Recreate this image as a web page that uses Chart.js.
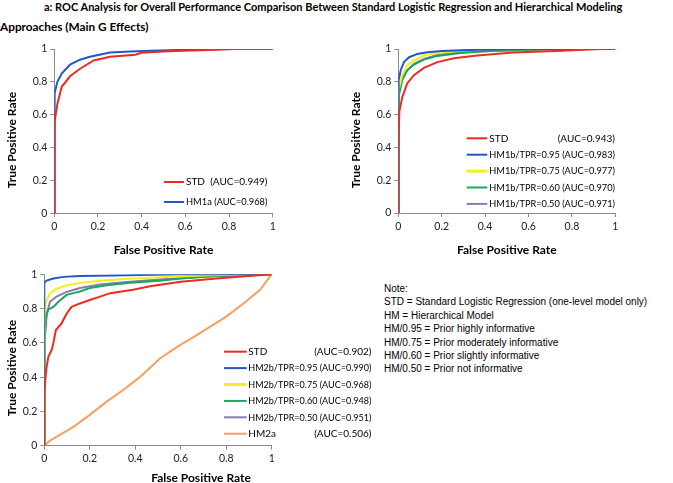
<!DOCTYPE html>
<html>
<head>
<meta charset="utf-8">
<title>ROC Analysis</title>
<script src="https://cdn.jsdelivr.net/npm/chart.js@4.4.1/dist/chart.umd.min.js"></script>
<style>
  body { margin: 0; background: #fff; }
  #page { position: relative; width: 673px; height: 483px; overflow: hidden; font-family: Lato, sans-serif; color: #000; }
  canvas { position: absolute; }
  .txt { position: absolute; white-space: nowrap; }
  #title { left: 44px; top: 0px; font-weight: bold; font-size: 11px; line-height: 14px; }
  #subtitle { left: 0px; top: 20px; font-weight: bold; font-size: 11.8px; line-height: 14px; }
  #note { left: 384px; top: 282px; font-family: "Liberation Sans", Arial, sans-serif; font-size: 10px; line-height: 13.4px; }
</style>
</head>
<body>
<div id="page">
  <div class="txt" id="title">a: ROC Analysis for Overall Performance Comparison Between Standard Logistic Regression and Hierarchical Modeling</div>
  <div class="txt" id="subtitle">Approaches (Main G Effects)</div>
  <canvas id="roc1" width="300" height="230" style="left:0px; top:30px;"></canvas>
  <canvas id="roc2" width="300" height="230" style="left:340px; top:30px;"></canvas>
  <canvas id="roc3" width="380" height="228" style="left:0px; top:255px;"></canvas>
  <div class="txt" id="note"></div>
</div>
<script>
// axis tick labels (same on both axes)
const tickLabels = ['0', '0.2', '0.4', '0.6', '0.8', '1'];

const noteLines = [
  'Note:',
  'STD = Standard Logistic Regression (one-level model only)',
  'HM = Hierarchical Model',
  'HM/0.95 = Prior highly informative',
  'HM/0.75 = Prior moderately informative',
  'HM/0.60 = Prior slightly informative',
  'HM/0.50 = Prior not informative'
];

// ---- chart 1: STD vs HM1a ----
const c1Labels = ['STD', 'HM1a'];
const c1Auc = ['(AUC=0.949)', '(AUC=0.968)'];
const c1StdFpr = [0, 0, 0.003, 0.014, 0.034, 0.072, 0.118, 0.18, 0.255, 0.37, 0.40, 0.52, 0.67, 0.82, 1];
const c1StdTpr = [0, 0.42, 0.56, 0.665, 0.77, 0.834, 0.88, 0.93, 0.953, 0.965, 0.977, 0.987, 0.993, 1, 1];
const c1Hm1aFpr = [0, 0, 0.003, 0.014, 0.034, 0.072, 0.118, 0.163, 0.255, 0.35, 0.44, 0.6, 0.75, 0.84, 1];
const c1Hm1aTpr = [0, 0.6, 0.73, 0.8, 0.85, 0.905, 0.935, 0.953, 0.978, 0.985, 0.99, 0.995, 0.998, 1, 1];

// ---- chart 2: STD vs HM1b priors ----
const c2Labels = ['STD', 'HM1b/TPR=0.95', 'HM1b/TPR=0.75', 'HM1b/TPR=0.60', 'HM1b/TPR=0.50'];
const c2Auc = ['(AUC=0.943)', '(AUC=0.983)', '(AUC=0.977)', '(AUC=0.970)', '(AUC=0.971)'];
const c2StdFpr = [0, 0, 0.005, 0.018, 0.041, 0.072, 0.118, 0.18, 0.256, 0.364, 0.53, 0.757, 0.92, 1];
const c2StdTpr = [0, 0.42, 0.62, 0.705, 0.79, 0.84, 0.885, 0.92, 0.943, 0.96, 0.978, 0.99, 1, 1];
const c2Hm95Fpr = [0, 0, 0.003, 0.011, 0.026, 0.05, 0.088, 0.134, 0.2, 0.364, 0.6, 1];
const c2Hm95Tpr = [0, 0.62, 0.81, 0.87, 0.92, 0.95, 0.97, 0.98, 0.988, 0.996, 1, 1];
const c2Hm75Fpr = [0, 0, 0.003, 0.018, 0.041, 0.072, 0.118, 0.18, 0.287, 0.4, 1];
const c2Hm75Tpr = [0, 0.6, 0.75, 0.84, 0.9, 0.93, 0.96, 0.976, 0.99, 0.998, 1];
const c2Hm60Fpr = [0, 0, 0.003, 0.018, 0.041, 0.072, 0.118, 0.18, 0.287, 0.44, 0.53, 0.7, 1];
const c2Hm60Tpr = [0, 0.6, 0.71, 0.81, 0.87, 0.905, 0.935, 0.958, 0.976, 0.99, 0.993, 0.998, 1];
const c2Hm50Fpr = [0, 0, 0.003, 0.018, 0.041, 0.072, 0.118, 0.18, 0.287, 0.44, 0.7, 1];
const c2Hm50Tpr = [0, 0.55, 0.73, 0.82, 0.87, 0.91, 0.94, 0.963, 0.98, 0.99, 0.998, 1];

// ---- chart 3: STD vs HM2b priors and HM2a ----
const c3Labels = ['STD', 'HM2b/TPR=0.95', 'HM2b/TPR=0.75', 'HM2b/TPR=0.60', 'HM2b/TPR=0.50', 'HM2a'];
const c3Auc = ['(AUC=0.902)', '(AUC=0.990)', '(AUC=0.968)', '(AUC=0.948)', '(AUC=0.951)', '(AUC=0.506)'];
const c3StdFpr = [0, 0, 0.004, 0.01, 0.018, 0.033, 0.04, 0.051, 0.076, 0.098, 0.12, 0.157, 0.2, 0.245, 0.29, 0.39, 0.465, 0.6, 0.757, 0.9, 1];
const c3StdTpr = [0, 0.3, 0.38, 0.46, 0.52, 0.56, 0.6, 0.675, 0.714, 0.77, 0.81, 0.83, 0.85, 0.87, 0.89, 0.91, 0.93, 0.957, 0.975, 0.99, 1];
const c3Hm95Fpr = [0, 0, 0.01, 0.04, 0.084, 0.157, 0.3, 0.6, 1];
const c3Hm95Tpr = [0, 0.95, 0.963, 0.975, 0.985, 0.99, 0.993, 1, 1];
const c3Hm75Fpr = [0, 0, 0.002, 0.007, 0.025, 0.054, 0.098, 0.157, 0.245, 0.35, 0.506, 0.7, 0.9, 1];
const c3Hm75Tpr = [0, 0.7, 0.78, 0.84, 0.89, 0.916, 0.936, 0.95, 0.963, 0.973, 0.983, 0.993, 1, 1];
const c3Hm60Fpr = [0, 0, 0.003, 0.01, 0.018, 0.04, 0.062, 0.098, 0.128, 0.157, 0.2, 0.274, 0.377, 0.506, 0.6, 0.85, 1];
const c3Hm60Tpr = [0, 0.5, 0.61, 0.765, 0.795, 0.81, 0.84, 0.88, 0.89, 0.9, 0.92, 0.936, 0.95, 0.963, 0.975, 1, 1];
const c3Hm50Fpr = [0, 0, 0.003, 0.01, 0.025, 0.054, 0.098, 0.157, 0.245, 0.35, 0.506, 0.7, 0.9, 1];
const c3Hm50Tpr = [0, 0.5, 0.65, 0.765, 0.84, 0.87, 0.897, 0.92, 0.94, 0.953, 0.97, 0.985, 0.995, 1];
const c3Hm2aFpr = [0, 0.025, 0.128, 0.2, 0.274, 0.347, 0.42, 0.51, 0.586, 0.66, 0.73, 0.8, 0.876, 0.949, 1];
const c3Hm2aTpr = [0, 0.03, 0.11, 0.18, 0.257, 0.325, 0.4, 0.51, 0.578, 0.636, 0.695, 0.753, 0.83, 0.91, 1];

// line colours
const RED = '#ee2b1f', BLUE = '#2457c5', YELLOW = '#f4ef1c', GREEN = '#17a85b', PURPLE = '#8a7ab5', ORANGE = '#f4a063';

document.getElementById('note').innerHTML = noteLines.join('<br>');

function points(fpr, tpr) {
    return fpr.map((x, i) => ({ x: x, y: tpr[i] }));
}

function series(label, auc, fpr, tpr, color) {
    return {
        label: label,
        auc: auc,
        data: points(fpr, tpr),
        borderColor: color,
        backgroundColor: color,
        borderWidth: 2,
        pointRadius: 0,
        showLine: true,
        tension: 0
    };
}

// draws axis titles and the in-plot legend (positions in canvas pixels)
const rocDecor = {
    id: 'rocDecor',
    afterDraw(chart, args, opts) {
        const ctx = chart.ctx;
        ctx.save();
        ctx.fillStyle = '#000';
        ctx.font = 'bold 12px Lato, sans-serif';
        ctx.textAlign = 'center';
        ctx.textBaseline = 'middle';
        ctx.fillText('False Positive Rate', opts.xTitle[0], opts.xTitle[1]);
        ctx.translate(opts.yTitle[0], opts.yTitle[1]);
        ctx.rotate(-Math.PI / 2);
        ctx.fillText('True Positive Rate', 0, 0);
        ctx.restore();

        const lg = opts.legend;
        ctx.save();
        ctx.font = '10px Lato, sans-serif';
        ctx.textBaseline = 'middle';
        const room = lg.right - lg.textX;
        chart.data.datasets.forEach((ds, i) => {
            const y = lg.y + i * lg.dy;
            ctx.strokeStyle = ds.borderColor;
            ctx.lineWidth = ds.borderColor === YELLOW ? 3 : ds.borderWidth;
            ctx.beginPath();
            ctx.moveTo(lg.x1, y);
            ctx.lineTo(lg.x2, y);
            ctx.stroke();

            // squeeze the row a little if label + AUC do not fit the column
            const lw = ctx.measureText(ds.label).width;
            const aw = ctx.measureText(ds.auc).width;
            const gap = ctx.measureText(' ').width;
            const f = Math.min(1, room / (lw + gap + aw));
            ctx.fillStyle = '#000';
            ctx.textAlign = 'left';
            ctx.fillText(ds.label, lg.textX, y, lw * f);
            ctx.textAlign = 'right';
            ctx.fillText(ds.auc, lg.right, y, aw * f);
        });
        ctx.restore();
    }
};

function axis(extra) {
    return Object.assign({
        type: 'linear',
        min: 0,
        max: 1,
        border: { display: true, color: '#8c8c8c', width: 1 },
        grid: { drawOnChartArea: false, drawTicks: true, tickLength: 4, color: '#8c8c8c' },
        ticks: {
            stepSize: 0.2,
            padding: 3,
            color: '#222',
            font: { family: 'Lato, sans-serif', size: 10.5 },
            callback: (v, i) => tickLabels[i]
        }
    }, extra);
}

function makeChart(id, datasets, geo) {
    const canvas = document.getElementById(id);
    return new Chart(canvas.getContext('2d'), {
        type: 'scatter',
        data: { datasets: datasets },
        options: {
            responsive: false,
            animation: false,
            devicePixelRatio: 1,
            layout: {
                padding: {
                    left: 0,
                    top: geo.top,
                    right: canvas.width - geo.right,
                    bottom: canvas.height - geo.bottom - 30
                }
            },
            scales: {
                x: axis({ afterFit: (s) => { s.height = 30; } }),
                y: axis({ afterFit: (s) => { s.width = geo.left; } })
            },
            plugins: {
                legend: { display: false },
                tooltip: { enabled: false },
                rocDecor: geo.decor
            }
        },
        plugins: [rocDecor]
    });
}

// Chart 1
makeChart('roc1', [
    series(c1Labels[0], c1Auc[0], c1StdFpr, c1StdTpr, RED),
    series(c1Labels[1], c1Auc[1], c1Hm1aFpr, c1Hm1aTpr, BLUE)
], {
    left: 54.3, top: 19, right: 272.7, bottom: 183.3,
    decor: { xTitle: [163.5, 220], yTitle: [12.5, 110],
             legend: { x1: 164, x2: 184, textX: 186, right: 267.5, y: 152, dy: 20 } }
});

// Chart 2
makeChart('roc2', [
    series(c2Labels[0], c2Auc[0], c2StdFpr, c2StdTpr, RED),
    series(c2Labels[1], c2Auc[1], c2Hm95Fpr, c2Hm95Tpr, BLUE),
    series(c2Labels[2], c2Auc[2], c2Hm75Fpr, c2Hm75Tpr, YELLOW),
    series(c2Labels[3], c2Auc[3], c2Hm60Fpr, c2Hm60Tpr, GREEN),
    series(c2Labels[4], c2Auc[4], c2Hm50Fpr, c2Hm50Tpr, PURPLE)
], {
    left: 58.3, top: 19, right: 275.3, bottom: 183,
    decor: { xTitle: [166.8, 220], yTitle: [16, 110],
             legend: { x1: 126.7, x2: 147.3, textX: 149.3, right: 275, y: 108.3, dy: 16.4 } }
});

// Chart 3
makeChart('roc3', [
    series(c3Labels[0], c3Auc[0], c3StdFpr, c3StdTpr, RED),
    series(c3Labels[1], c3Auc[1], c3Hm95Fpr, c3Hm95Tpr, BLUE),
    series(c3Labels[2], c3Auc[2], c3Hm75Fpr, c3Hm75Tpr, YELLOW),
    series(c3Labels[3], c3Auc[3], c3Hm60Fpr, c3Hm60Tpr, GREEN),
    series(c3Labels[4], c3Auc[4], c3Hm50Fpr, c3Hm50Tpr, PURPLE),
    series(c3Labels[5], c3Auc[5], c3Hm2aFpr, c3Hm2aTpr, ORANGE)
], {
    left: 44.3, top: 19.3, right: 271.7, bottom: 190.7,
    decor: { xTitle: [201, 223.5], yTitle: [12.5, 113],
             legend: { x1: 224, x2: 246.7, textX: 248.3, right: 371.5, y: 96.7, dy: 16.4 } }
});
</script>
</body>
</html>
